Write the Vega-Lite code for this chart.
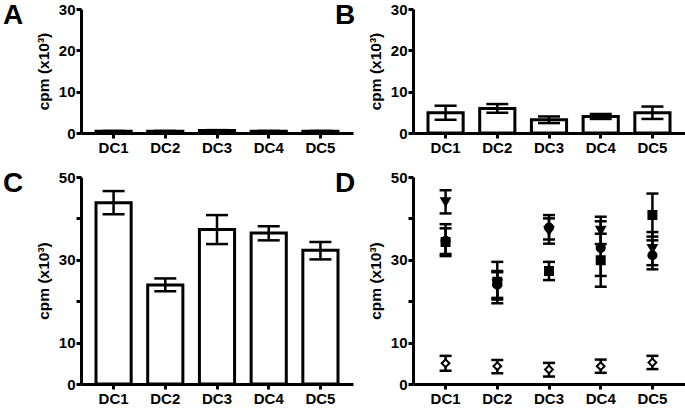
{
  "$schema": "https://vega.github.io/schema/vega-lite/v6.json",
  "padding": {"left": 3, "top": 2, "right": 0, "bottom": 0},
  "background": "white",
  "config": {
    "view": {"stroke": null},
    "font": "Liberation Sans",
    "axis": {
      "domainColor": "black", "domainWidth": 3, "tickColor": "black", "tickWidth": 3, "tickSize": 5,
      "labelFont": "Liberation Sans", "labelFontSize": 15, "labelFontWeight": "bold", "labelColor": "black", "labelPadding": 1,
      "titleFont": "Liberation Sans", "titleFontSize": 15.5, "titleFontWeight": "bold", "titleColor": "black", "titlePadding": 7,
      "grid": false
    },
    "axisX": {"labelAngle": 0, "title": null, "labelPadding": 2},
    "title": {"font": "Liberation Sans", "fontSize": 28, "fontWeight": "bold", "color": "black", "anchor": "start", "frame": "group", "baseline": "top", "offset": 0}
  },
  "datasets": {
    "A": [
      {"dc": "DC1", "value": 0.4, "lo": 0.3, "hi": 0.5},
      {"dc": "DC2", "value": 0.4, "lo": 0.3, "hi": 0.5},
      {"dc": "DC3", "value": 0.6, "lo": 0.5, "hi": 0.7},
      {"dc": "DC4", "value": 0.4, "lo": 0.3, "hi": 0.5},
      {"dc": "DC5", "value": 0.4, "lo": 0.3, "hi": 0.5}
    ],
    "B": [
      {"dc": "DC1", "value": 4.9, "lo": 3.2, "hi": 6.6},
      {"dc": "DC2", "value": 5.9, "lo": 4.9, "hi": 7.0},
      {"dc": "DC3", "value": 3.2, "lo": 2.4, "hi": 4.0},
      {"dc": "DC4", "value": 4.0, "lo": 3.4, "hi": 4.6},
      {"dc": "DC5", "value": 4.9, "lo": 3.4, "hi": 6.4}
    ],
    "C": [
      {"dc": "DC1", "value": 43.8, "lo": 41.0, "hi": 46.6},
      {"dc": "DC2", "value": 23.9, "lo": 22.4, "hi": 25.5},
      {"dc": "DC3", "value": 37.3, "lo": 33.8, "hi": 40.8},
      {"dc": "DC4", "value": 36.5, "lo": 34.7, "hi": 38.1},
      {"dc": "DC5", "value": 32.3, "lo": 30.1, "hi": 34.3}
    ],
    "D": [
      {"dc": "DC1", "series": "tri", "value": 44.0, "lo": 41.2, "hi": 46.8},
      {"dc": "DC1", "series": "circ", "value": 34.6, "lo": 31.4, "hi": 37.6},
      {"dc": "DC1", "series": "sq", "value": 34.3, "lo": 30.9, "hi": 38.6},
      {"dc": "DC1", "series": "open", "value": 5.0, "lo": 3.2, "hi": 6.8},
      {"dc": "DC2", "series": "tri", "value": 24.2, "lo": 20.4, "hi": 27.3},
      {"dc": "DC2", "series": "circ", "value": 24.0, "lo": 20.8, "hi": 27.0},
      {"dc": "DC2", "series": "sq", "value": 24.7, "lo": 19.5, "hi": 29.5},
      {"dc": "DC2", "series": "open", "value": 4.3, "lo": 2.6, "hi": 5.8},
      {"dc": "DC3", "series": "tri", "value": 37.0, "lo": 33.9, "hi": 40.0},
      {"dc": "DC3", "series": "circ", "value": 37.8, "lo": 34.9, "hi": 40.8},
      {"dc": "DC3", "series": "sq", "value": 27.3, "lo": 25.1, "hi": 29.5},
      {"dc": "DC3", "series": "open", "value": 3.5, "lo": 1.8, "hi": 5.1},
      {"dc": "DC4", "series": "tri", "value": 37.1, "lo": 33.8, "hi": 40.4},
      {"dc": "DC4", "series": "circ", "value": 32.9, "lo": 26.1, "hi": 39.3},
      {"dc": "DC4", "series": "sq", "value": 29.9, "lo": 23.5, "hi": 36.3},
      {"dc": "DC4", "series": "open", "value": 4.3, "lo": 2.7, "hi": 5.9},
      {"dc": "DC5", "series": "tri", "value": 32.7, "lo": 28.7, "hi": 36.7},
      {"dc": "DC5", "series": "circ", "value": 31.1, "lo": 27.7, "hi": 34.7},
      {"dc": "DC5", "series": "sq", "value": 40.8, "lo": 35.6, "hi": 46.0},
      {"dc": "DC5", "series": "open", "value": 5.2, "lo": 3.6, "hi": 6.8}
    ]
  },
  "columns": 2,
  "spacing": {"row": 44, "column": 60},
  "bounds": "flush",
  "concat": [
    {
      "width": 272, "height": 124,
      "title": {"text": "A", "dx": -78, "dy": 32},
      "data": {"name": "A"},
      "encoding": {
        "x": {"field": "dc", "type": "nominal", "scale": {"paddingInner": 0.32, "paddingOuter": 0.29}}
      },
      "layer": [
        {"mark": {"type": "bar", "fill": "white", "stroke": "black", "strokeWidth": 3},
         "encoding": {"y": {"field": "value", "type": "quantitative", "scale": {"domain": [0, 30], "nice": false},
           "axis": {"title": "cpm (x10³)", "values": [0, 10, 20, 30]}}}},
        {"mark": {"type": "rule", "color": "black", "strokeWidth": 2.5},
         "encoding": {"y": {"field": "lo", "type": "quantitative"}, "y2": {"field": "hi"}}},
        {"mark": {"type": "tick", "color": "black", "opacity": 1, "size": 22, "thickness": 2.5},
         "encoding": {"y": {"field": "lo", "type": "quantitative"}}},
        {"mark": {"type": "tick", "color": "black", "opacity": 1, "size": 22, "thickness": 2.5},
         "encoding": {"y": {"field": "hi", "type": "quantitative"}}}
      ]
    },
    {
      "width": 272, "height": 124,
      "title": {"text": "B", "dx": -78, "dy": 32},
      "data": {"name": "B"},
      "encoding": {
        "x": {"field": "dc", "type": "nominal", "scale": {"paddingInner": 0.32, "paddingOuter": 0.29}}
      },
      "layer": [
        {"mark": {"type": "bar", "fill": "white", "stroke": "black", "strokeWidth": 3},
         "encoding": {"y": {"field": "value", "type": "quantitative", "scale": {"domain": [0, 30], "nice": false},
           "axis": {"title": "cpm (x10³)", "values": [0, 10, 20, 30]}}}},
        {"mark": {"type": "rule", "color": "black", "strokeWidth": 2.5},
         "encoding": {"y": {"field": "lo", "type": "quantitative"}, "y2": {"field": "hi"}}},
        {"mark": {"type": "tick", "color": "black", "opacity": 1, "size": 22, "thickness": 2.5},
         "encoding": {"y": {"field": "lo", "type": "quantitative"}}},
        {"mark": {"type": "tick", "color": "black", "opacity": 1, "size": 22, "thickness": 2.5},
         "encoding": {"y": {"field": "hi", "type": "quantitative"}}}
      ]
    },
    {
      "width": 272, "height": 207,
      "title": {"text": "C", "dx": -78, "dy": 32},
      "data": {"name": "C"},
      "encoding": {
        "x": {"field": "dc", "type": "nominal", "scale": {"paddingInner": 0.32, "paddingOuter": 0.29}}
      },
      "layer": [
        {"mark": {"type": "bar", "fill": "white", "stroke": "black", "strokeWidth": 3},
         "encoding": {"y": {"field": "value", "type": "quantitative", "scale": {"domain": [0, 50], "nice": false},
           "axis": {"title": "cpm (x10³)", "values": [0, 10, 20, 30, 40, 50], "labelExpr": "datum.value == 20 || datum.value == 40 ? '' : datum.label"}}}},
        {"mark": {"type": "rule", "color": "black", "strokeWidth": 2.5},
         "encoding": {"y": {"field": "lo", "type": "quantitative"}, "y2": {"field": "hi"}}},
        {"mark": {"type": "tick", "color": "black", "opacity": 1, "size": 22, "thickness": 2.5},
         "encoding": {"y": {"field": "lo", "type": "quantitative"}}},
        {"mark": {"type": "tick", "color": "black", "opacity": 1, "size": 22, "thickness": 2.5},
         "encoding": {"y": {"field": "hi", "type": "quantitative"}}}
      ]
    },
    {
      "width": 272, "height": 207,
      "title": {"text": "D", "dx": -78, "dy": 32},
      "data": {"name": "D"},
      "encoding": {
        "x": {"field": "dc", "type": "nominal", "scale": {"paddingInner": 0.32, "paddingOuter": 0.29}}
      },
      "layer": [
        {"mark": {"type": "rule", "color": "black", "strokeWidth": 2.5},
         "encoding": {"y": {"field": "lo", "type": "quantitative", "scale": {"domain": [0, 50], "nice": false},
           "axis": {"title": "cpm (x10³)", "values": [0, 10, 20, 30, 40, 50], "labelExpr": "datum.value == 20 || datum.value == 40 ? '' : datum.label"}}, "y2": {"field": "hi"}}},
        {"mark": {"type": "tick", "color": "black", "opacity": 1, "size": 12, "thickness": 2.5},
         "encoding": {"y": {"field": "lo", "type": "quantitative"}}},
        {"mark": {"type": "tick", "color": "black", "opacity": 1, "size": 12, "thickness": 2.5},
         "encoding": {"y": {"field": "hi", "type": "quantitative"}}},
        {"mark": {"type": "point", "filled": true, "opacity": 1, "stroke": "black", "strokeWidth": 2},
         "encoding": {
           "y": {"field": "value", "type": "quantitative"},
           "shape": {"field": "series", "type": "nominal", "legend": null,
             "scale": {"domain": ["tri", "circ", "sq", "open"], "range": ["triangle-down", "circle", "square", "diamond"]}},
           "fill": {"field": "series", "type": "nominal", "legend": null,
             "scale": {"domain": ["tri", "circ", "sq", "open"], "range": ["black", "black", "black", "white"]}},
           "size": {"field": "series", "type": "nominal", "legend": null,
             "scale": {"domain": ["tri", "circ", "sq", "open"], "range": [70, 60, 60, 100]}}
         }}
      ]
    }
  ]
}
